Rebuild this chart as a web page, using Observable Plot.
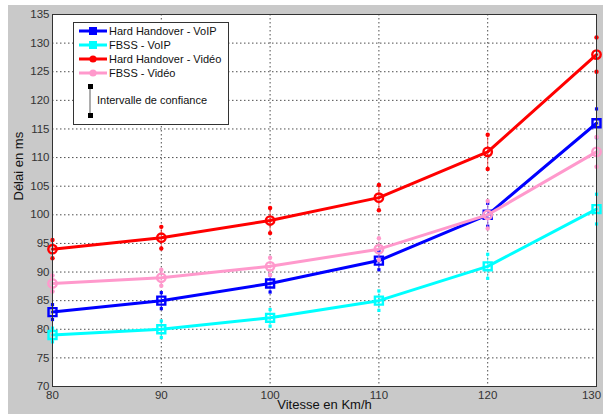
<!DOCTYPE html>
<html>
<head>
<meta charset="utf-8">
<script src="https://cdn.jsdelivr.net/npm/d3@7"></script>
<script src="https://cdn.jsdelivr.net/npm/@observablehq/plot@0.6"></script>
<style>
  html, body { margin: 0; padding: 0; background: #ffffff; }
  #wrap { position: relative; width: 603px; height: 414px; background: #c9c9c9; overflow: hidden; }
  #edgeL { position: absolute; left: 0; top: 0; width: 8px; height: 414px; background: #fff; }
  #edgeT { position: absolute; left: 0; top: 0; width: 603px; height: 5px; background: #fff; }
  #legend { position: absolute; left: 73px; top: 22px; width: 154px; height: 101px; background: #fff; border: 1px solid #333; box-sizing: content-box; }
  #legend svg { display: block; }
</style>
</head>
<body>
<div id="wrap"><div id="chart"></div><div id="edgeL"></div><div id="edgeT"></div><div id="legend"></div></div>
<script>
// ---- data ----
const speeds = [80, 90, 100, 110, 120, 130];
const hhVoip = [83, 85, 88, 92, 100, 116];
const hhVoipCI = [1.3, 1.4, 1.5, 1.6, 2.0, 2.5];
const fbssVoip = [79, 80, 82, 85, 91, 101];
const fbssVoipCI = [1.2, 1.45, 1.45, 1.7, 2.1, 2.6];
const hhVideo = [94, 96, 99, 103, 111, 128];
const hhVideoCI = [1.6, 1.9, 2.2, 2.2, 3.0, 3.0];
const fbssVideo = [88, 89, 91, 94, 100, 111];
const fbssVideoCI = [1.4, 1.4, 1.5, 1.9, 2.4, 2.6];
const seriesNames = ["Hard Handover - VoIP", "FBSS - VoIP", "Hard Handover - Vidéo", "FBSS - Vidéo"];
const seriesColors = ["#0000ff", "#00ffff", "#ff0000", "#ff99cc"];
const seriesSymbols = ["square", "square", "circle", "circle"];
const xTicks = [80, 90, 100, 110, 120, 130];
const yTicks = [70, 75, 80, 85, 90, 95, 100, 105, 110, 115, 120, 125, 130, 135];
const xLabel = "Vitesse en Km/h";
const yLabel = "Délai en ms";
const ciLabel = "Intervalle de confiance";

const allValues = [hhVoip, fbssVoip, hhVideo, fbssVideo];
const allCI = [hhVoipCI, fbssVoipCI, hhVideoCI, fbssVideoCI];
const rows = [];
allValues.forEach((vals, s) => vals.forEach((v, i) => rows.push({
  s, name: seriesNames[s], x: speeds[i], y: v, lo: v - allCI[s][i], hi: v + allCI[s][i]
})));

const font = "Liberation Sans, Arial, sans-serif";
const marks = [
  Plot.frame({fill: "white", stroke: null}),
  Plot.gridY(yTicks.slice(1, -1), {stroke: "#222", strokeOpacity: 0.8, strokeDasharray: "1.5,2.5"}),
  Plot.gridX(xTicks.slice(1, -1), {stroke: "#222", strokeOpacity: 0.8, strokeDasharray: "1.5,2.5"}),
  Plot.axisY(yTicks, {tickSize: 0, tickPadding: 3, fontSize: 11.5, fill: "#333", label: null}),
  Plot.axisX(xTicks.slice(0, -1), {tickSize: 0, tickPadding: 4, fontSize: 11.5, fill: "#333", label: null}),
  Plot.axisX(xTicks.slice(-1), {tickSize: 0, tickPadding: 4, dx: -5, fontSize: 11.5, fill: "#333", label: null})
];
for (let s = 0; s < 4; s++) {
  const d = rows.filter(r => r.s === s);
  const c = seriesColors[s];
  marks.push(
    Plot.ruleX(d, {x: "x", y1: "lo", y2: "hi", stroke: c, strokeOpacity: 0.6, strokeWidth: 1}),
    Plot.dot(d, {x: "x", y: "lo", symbol: seriesSymbols[s], r: s < 2 ? 1.8 : 2.2, fill: c, stroke: null}),
    Plot.dot(d, {x: "x", y: "hi", symbol: seriesSymbols[s], r: s < 2 ? 1.8 : 2.2, fill: c, stroke: null}),
    Plot.line(d, {x: "x", y: "y", stroke: c, strokeWidth: 3}),
    Plot.dot(d, {x: "x", y: "y", symbol: seriesSymbols[s], r: s < 2 ? 4.5 : 4.2, fill: "none", stroke: c, strokeWidth: 2.4})
  );
}
marks.push(
  Plot.frame({stroke: "#333", strokeWidth: 1}),
  Plot.text([xLabel], {frameAnchor: "bottom", dy: 22, fontSize: 13, fill: "#111", text: d => d}),
  Plot.text([yLabel], {frameAnchor: "left", dx: -34, rotate: -90, fontSize: 13, fill: "#111", text: d => d})
);

const chart = Plot.plot({
  width: 603, height: 414,
  marginLeft: 52, marginRight: 7, marginTop: 14, marginBottom: 28,
  x: {domain: [80, 130]},
  y: {domain: [70, 135]},
  style: {background: "transparent", fontFamily: font, overflow: "visible"},
  marks
});
document.getElementById("chart").appendChild(chart);

// ---- legend ----
const rowY = [8, 22, 36, 50];
let svg = `<svg width="154" height="101" font-family="${font}" font-size="11">`;
seriesNames.forEach((n, i) => {
  const y = rowY[i];
  svg += `<line x1="5" x2="33" y1="${y}" y2="${y}" stroke="${seriesColors[i]}" stroke-width="3"/>`;
  if (seriesSymbols[i] === "square") svg += `<rect x="${19 - 4}" y="${y - 4}" width="8" height="8" fill="${seriesColors[i]}"/>`;
  else svg += `<circle cx="19" cy="${y}" r="3.6" fill="${seriesColors[i]}"/>`;
  svg += `<text x="35" y="${y}" dy="0.35em" fill="#111">${n}</text>`;
});
svg += `<line x1="16" x2="16" y1="63" y2="92" stroke="#777" stroke-width="1.2"/>`;
svg += `<rect x="14" y="61" width="5" height="5" fill="#000"/><rect x="14" y="90" width="5" height="5" fill="#000"/>`;
svg += `<text x="23" y="77" dy="0.35em" fill="#111">${ciLabel}</text>`;
svg += `</svg>`;
document.getElementById("legend").innerHTML = svg;
</script>
</body>
</html>
